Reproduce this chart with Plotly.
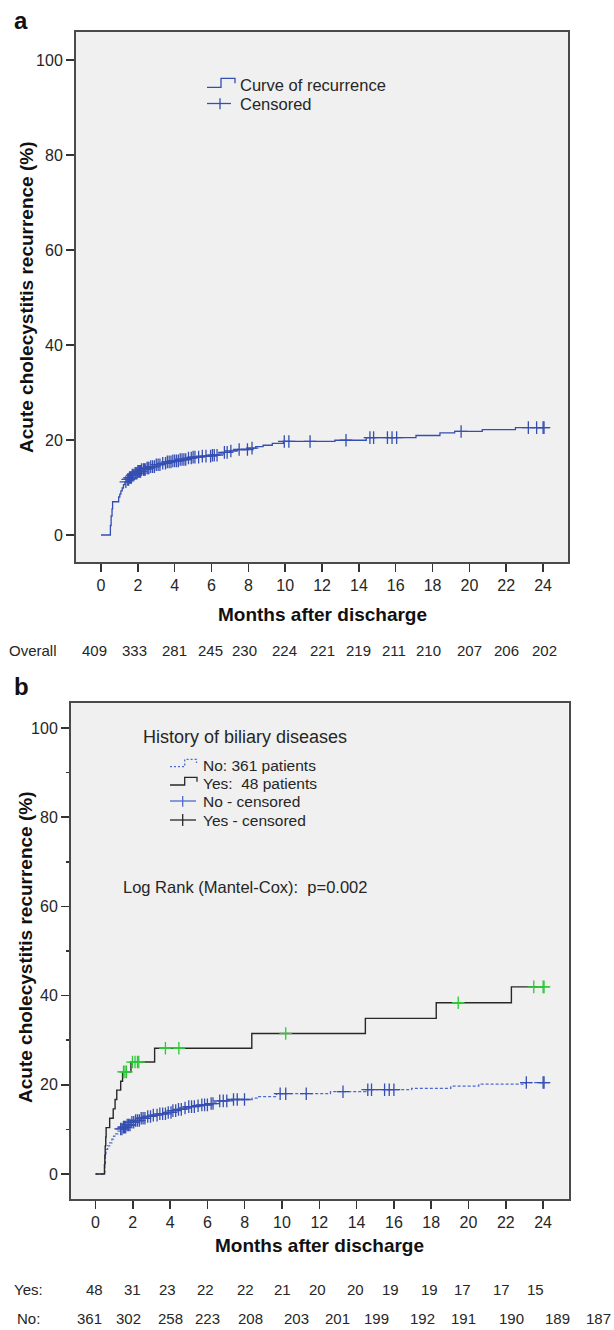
import plotly.graph_objects as go

W, H = 614, 1330

# ---------------- data: panel a (overall) ----------------
overall_t = [0, 0.51, 0.55, 0.60, 0.63, 0.96, 1.02, 1.08, 1.15, 1.22, 1.30, 1.40, 1.55, 1.70,
             1.85, 2.0, 2.2, 2.45, 2.7, 3.0, 3.3, 3.6, 3.9, 4.3, 4.7, 5.0, 5.5, 6.0, 6.4, 6.7,
             7.0, 7.4, 8.0, 8.4, 8.8, 9.3, 9.9, 12.7, 14.4, 17.1, 18.4, 19.2, 20.7, 22.5]
overall_v = [0, 2.0, 4.0, 5.5, 7.0, 8.0, 8.6, 9.3, 9.9, 10.6, 11.2, 11.7, 12.1, 12.6,
             13.0, 13.4, 13.8, 14.1, 14.4, 14.8, 15.1, 15.4, 15.6, 15.9, 16.2, 16.4, 16.6, 16.8, 17.1, 17.4,
             17.7, 18.0, 18.3, 18.6, 18.9, 19.3, 19.7, 19.95, 20.5, 20.95, 21.5, 21.8, 22.2, 22.6]
overall_end = 24.05
overall_cens = [1.35, 1.45, 1.5, 1.55, 1.6, 1.65, 1.7, 1.78, 1.85, 1.9, 1.95, 2.0, 2.05, 2.1,
                2.15, 2.2, 2.3, 2.35, 2.4, 2.5, 2.55, 2.6, 2.7, 2.8, 2.9, 3.0, 3.1, 3.2, 3.35,
                3.5, 3.6, 3.7, 3.8, 3.9, 4.0, 4.1, 4.2, 4.3, 4.4, 4.5, 4.6, 4.75, 4.9, 5.0, 5.1,
                5.3, 5.5, 5.7, 5.95, 6.05, 6.15, 6.3, 6.7, 6.85, 7.05, 7.5, 7.95, 8.2, 9.95,
                10.2, 11.35, 13.3, 14.6, 14.8, 15.55, 15.8, 16.05, 19.55, 23.2, 23.65, 24.0, 24.05]

# ---------------- data: panel b (history of biliary diseases) ----------------
no_t = [0, 0.50, 0.53, 0.56, 0.65, 0.76, 0.88, 0.97, 1.08, 1.2, 1.35, 1.5, 1.7, 1.9, 2.15,
        2.45, 2.75, 3.05, 3.45, 3.8, 4.15, 4.4, 4.75, 4.95, 5.4, 5.7, 6.1, 6.4, 6.65, 7.05,
        8.4, 8.75, 9.7, 12.6, 14.5, 16.95, 19.05, 20.55, 23.05]
no_v = [0, 2.0, 4.0, 5.5, 6.3, 7.0, 7.8, 8.5, 9.0, 9.6, 10.1, 10.5, 11.0, 11.6, 12.0,
        12.5, 12.9, 13.2, 13.5, 13.8, 14.2, 14.5, 14.8, 15.1, 15.3, 15.5, 15.8, 16.1, 16.4, 16.7,
        17.0, 17.35, 18.0, 18.45, 18.9, 19.2, 19.7, 20.15, 20.5]
no_end = 24.05
no_cens = [1.35, 1.42, 1.5, 1.55, 1.62, 1.7, 1.78, 1.85, 1.95, 2.05, 2.15, 2.25, 2.35, 2.45,
           2.55, 2.65, 2.8, 2.95, 3.1, 3.3, 3.45, 3.6, 3.75, 3.9, 4.05, 4.15, 4.3, 4.45, 4.6,
           4.8, 5.0, 5.15, 5.3, 5.5, 5.7, 5.85, 6.0, 6.2, 6.3, 6.66, 6.85, 7.04, 7.4, 7.6,
           7.99, 9.9, 10.2, 11.3, 13.27, 14.6, 14.8, 15.5, 15.75, 16.0, 23.1, 24.0, 24.05]

yes_t = [0, 0.48, 0.50, 0.52, 0.55, 0.57, 0.76, 0.95, 1.05, 1.14, 1.35, 1.45, 1.90, 3.17,
         8.38, 14.47, 18.27, 22.30]
yes_v = [0, 2.1, 4.2, 6.3, 8.3, 10.4, 12.5, 14.6, 16.7, 18.8, 20.8, 22.9, 25.1, 28.2,
         31.5, 34.9, 38.4, 41.95]
yes_end = 24.05
yes_cens = [1.50, 1.58, 1.66, 1.98, 2.12, 2.25, 2.32, 3.75, 4.47, 10.2, 19.45, 23.5, 24.0, 24.05]

# ---------------- ticks & risk tables ----------------
month_ticks = list(range(0, 25, 2))
pct_ticks = [0, 20, 40, 60, 80, 100]

overall_risk = [409, 333, 281, 245, 230, 224, 221, 219, 211, 210, 207, 206, 202]
overall_risk_x = [-0.35, 1.8, 4.0, 5.95, 7.8, 9.95, 12.05, 14.0, 15.9, 17.8, 20.0, 22.0, 24.05]
yes_risk = [48, 31, 23, 22, 22, 21, 20, 20, 19, 19, 17, 17, 15]
yes_risk_x = [-0.06, 2.0, 3.85, 5.9, 8.04, 10.04, 11.9, 13.96, 15.8, 17.9, 19.7, 21.77, 23.6]
no_risk = [361, 302, 258, 223, 208, 203, 201, 199, 192, 191, 190, 189, 187]
no_risk_x = [-0.32, 1.75, 4.0, 6.0, 8.29, 10.76, 12.99, 15.05, 17.56, 19.71, 22.32, 24.76, 26.95]

# ---------------- styling ----------------
SANS = "Liberation Sans, Arial, sans-serif"
BLUE = "rgb(52,78,178)"
BLUE_LIGHT = "rgb(80,105,205)"
BLACK = "rgb(40,40,40)"
GREEN = "rgb(45,200,55)"
FRAME = "#4a4a4a"
TXT = "#262626"


def px(x):
    return x / W


def py(y):
    return 1 - y / H


# panel geometry (pixels)
A_L, A_R, A_T, A_B = 76, 568, 32, 562
B_L, B_R, B_T, B_B = 71, 568.5, 703, 1199
A_XR = [-(101 - A_L) / 18.42, (A_R - 101) / 18.42]
A_YR = [(535 - A_B) / 4.75, (535 - A_T) / 4.75]
B_XR = [-(95.5 - B_L) / 18.65, (B_R - 95.5) / 18.65]
B_YR = [(1174 - B_B) / 4.46, (1174 - B_T) / 4.46]


def step_at(ts, vs, t):
    val = vs[0]
    for tt, vv in zip(ts, vs):
        if tt <= t:
            val = vv
    return val


def bx_paper(m):
    frac = (m - B_XR[0]) / (B_XR[1] - B_XR[0])
    return px(B_L) + frac * (px(B_R) - px(B_L))


fig = go.Figure()

# panel a curve
fig.add_trace(go.Scatter(x=overall_t + [overall_end], y=overall_v + [overall_v[-1]],
                         mode="lines", line=dict(color=BLUE, width=1.3, shape="hv"),
                         xaxis="x", yaxis="y", showlegend=False, hoverinfo="skip"))
fig.add_trace(go.Scatter(x=overall_cens, y=[step_at(overall_t, overall_v, t) for t in overall_cens],
                         mode="markers",
                         marker=dict(symbol="cross-thin", size=9, line=dict(color=BLUE, width=1.3)),
                         xaxis="x", yaxis="y", showlegend=False, hoverinfo="skip"))

# panel b curves
fig.add_trace(go.Scatter(x=no_t + [no_end], y=no_v + [no_v[-1]],
                         mode="lines", line=dict(color=BLUE_LIGHT, width=1.3, shape="hv", dash="3px,2px"),
                         xaxis="x2", yaxis="y2", showlegend=False, hoverinfo="skip"))
fig.add_trace(go.Scatter(x=yes_t + [yes_end], y=yes_v + [yes_v[-1]],
                         mode="lines", line=dict(color=BLACK, width=1.4, shape="hv"),
                         xaxis="x2", yaxis="y2", showlegend=False, hoverinfo="skip"))
fig.add_trace(go.Scatter(x=no_cens, y=[step_at(no_t, no_v, t) for t in no_cens],
                         mode="markers",
                         marker=dict(symbol="cross-thin", size=9, line=dict(color=BLUE, width=1.3)),
                         xaxis="x2", yaxis="y2", showlegend=False, hoverinfo="skip"))
fig.add_trace(go.Scatter(x=yes_cens, y=[step_at(yes_t, yes_v, t) for t in yes_cens],
                         mode="markers",
                         marker=dict(symbol="cross-thin", size=9, line=dict(color=GREEN, width=1.3)),
                         xaxis="x2", yaxis="y2", showlegend=False, hoverinfo="skip"))

axis_common = dict(showgrid=False, zeroline=False, showline=True, linecolor=FRAME, linewidth=2,
                   mirror=True, ticks="outside", ticklen=8, tickwidth=1.5, tickcolor="#333",
                   tickfont=dict(family=SANS, size=16, color=TXT))

fig.update_layout(
    width=W, height=H, margin=dict(l=0, r=0, t=0, b=0),
    paper_bgcolor="white", plot_bgcolor="#f0f0f0",
    xaxis=dict(domain=[px(A_L), px(A_R)], range=A_XR, tickvals=month_ticks, anchor="y", **axis_common),
    yaxis=dict(domain=[py(A_B), py(A_T)], range=A_YR, tickvals=pct_ticks, anchor="x", **axis_common),
    xaxis2=dict(domain=[px(B_L), px(B_R)], range=B_XR, tickvals=month_ticks, anchor="y2", **axis_common),
    yaxis2=dict(domain=[py(B_B), py(B_T)], range=B_YR, tickvals=pct_ticks, anchor="x2",
                minor=dict(tickvals=[10, 30, 50, 70, 90], ticks="outside", ticklen=3.5,
                           tickwidth=1.5, tickcolor="#333"),
                **axis_common),
)

ann = []


def text(x, y, s, size=16, xanchor="left", bold=False, angle=0):
    ann.append(dict(x=x, y=y, xref="paper", yref="paper", text=("<b>%s</b>" % s) if bold else s,
                    showarrow=False, xanchor=xanchor, yanchor="middle", textangle=angle,
                    font=dict(family=SANS, size=size, color="#111" if bold else TXT)))


# panel letters
text(px(12), py(20), "a", size=24, bold=True)
text(px(12), py(686), "b", size=24, bold=True)

# axis titles
text(px((A_L + A_R) / 2), py(614), "Months after discharge", size=19, bold=True, xanchor="center")
text(px((B_L + B_R) / 2), py(1245), "Months after discharge", size=19, bold=True, xanchor="center")
text(px(26), py(297), "Acute cholecystitis recurrence (%)", size=19, bold=True,
     xanchor="center", angle=-90)
text(px(25), py(947), "Acute cholecystitis recurrence (%)", size=19, bold=True,
     xanchor="center", angle=-90)

# legend a
text(px(238), py(85), "Curve of recurrence", size=16.5)
text(px(238), py(103.5), "Censored", size=16.5)
# legend b
text(px(141), py(737), "History of biliary diseases", size=18)
text(px(201), py(765), "No: 361 patients", size=15.5)
text(px(201), py(783.5), "Yes:  48 patients", size=15.5)
text(px(201), py(802), "No - censored", size=15.5)
text(px(201), py(820.5), "Yes - censored", size=15.5)
text(px(121), py(887), "Log Rank (Mantel-Cox):  p=0.002", size=16.5)

# risk tables
text(px(7), py(650), "Overall", size=15)
for xv, n in zip(overall_risk_x, overall_risk):
    ann.append(dict(x=xv, y=py(650), xref="x", yref="paper", text=str(n), showarrow=False,
                    xanchor="center", yanchor="middle", font=dict(family=SANS, size=15, color=TXT)))
text(px(12), py(1289), "Yes:", size=15)
for xv, n in zip(yes_risk_x, yes_risk):
    text(bx_paper(xv), py(1289), str(n), size=15, xanchor="center")
text(px(15), py(1318), "No:", size=15)
for xv, n in zip(no_risk_x, no_risk):
    text(bx_paper(xv), py(1318), str(n), size=15, xanchor="center")

fig.update_layout(annotations=ann)

# legend glyphs (shapes in paper coordinates)
shapes = []


def path(pts, color, width=1.3, dash="solid"):
    d = "M " + " L ".join("%f,%f" % (px(a), py(b)) for a, b in pts)
    shapes.append(dict(type="path", path=d, xref="paper", yref="paper",
                       line=dict(color=color, width=width, dash=dash)))


path([(207, 87.3), (221, 87.3), (221, 78.3), (235, 78.3), (235, 83.3)], BLUE)
path([(207, 103.5), (231, 103.5)], BLUE)
path([(220, 98.3), (220, 109.3)], BLUE)

path([(170, 766.7), (184.7, 766.7), (184.7, 759.3), (196.5, 759.3), (196.5, 763)], BLUE_LIGHT, dash="2px,2px")
path([(170, 785), (184.7, 785), (184.7, 777.3), (197, 777.3), (197, 781.7)], BLACK)
path([(170, 801), (196, 801)], BLUE_LIGHT)
path([(182.7, 796), (182.7, 806.7)], BLUE_LIGHT)
path([(170, 820), (196, 820)], BLACK)
path([(182.7, 814), (182.7, 826)], BLACK)

fig.update_layout(shapes=shapes)

fig.write_html("out.html",
               config={"displayModeBar": False, "staticPlot": True},
               post_script="document.body.style.margin='0px';document.body.style.overflow='hidden';")
